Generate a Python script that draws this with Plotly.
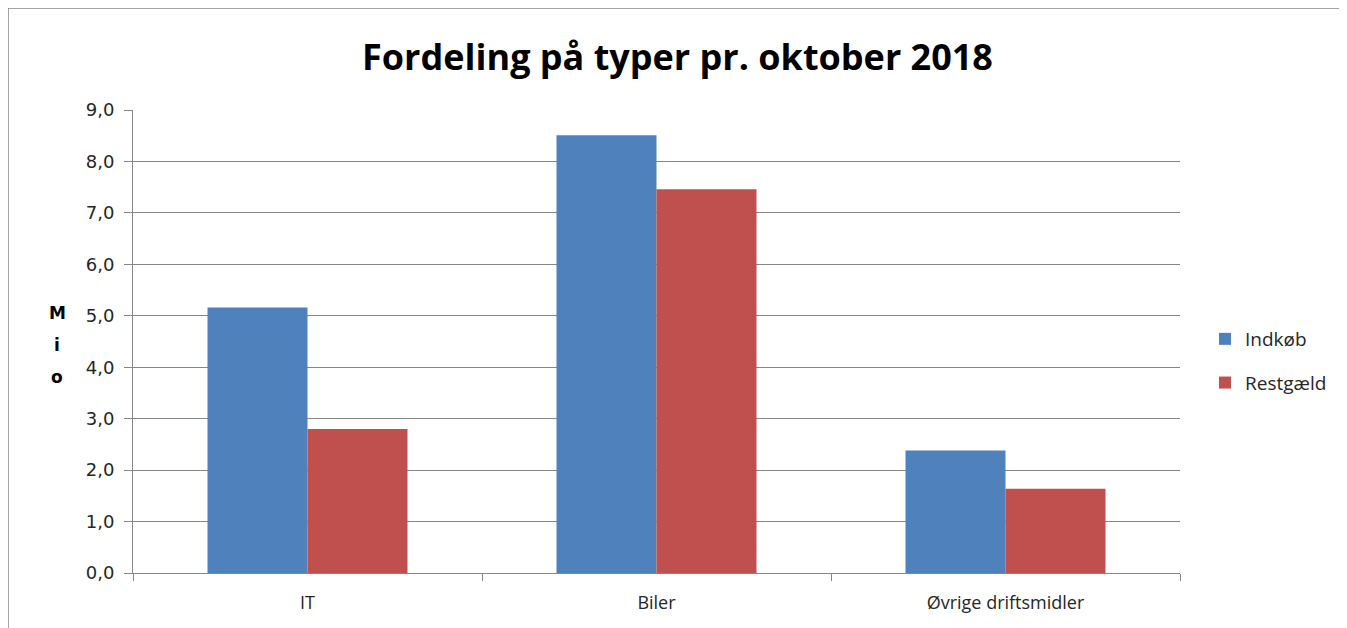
import plotly.graph_objects as go

categories = ["IT", "Biler", "Øvrige driftsmidler"]
indkob = [5.16, 8.51, 2.38]
restgaeld = [2.80, 7.46, 1.64]
tick_vals = [0, 1, 2, 3, 4, 5, 6, 7, 8, 9]
tick_text = ["0,0", "1,0", "2,0", "3,0", "4,0", "5,0", "6,0", "7,0", "8,0", "9,0"]

# page body has an 8px margin, so figure coordinates = screen - 8
W, H = 1339, 620
L, R, T, B = 125, 167, 102, 55
pw, ph = W - L - R, H - T - B
x0s, y0s = L + 8, T + 8          # plot origin on screen (top-left)
ybot = H - B + 8                 # screen y of value 0


def px(sx):
    return (sx - x0s) / pw


def py(sy):
    return (ybot - sy) / ph


fig = go.Figure()
fig.add_trace(go.Bar(name="Indkøb", x=categories, y=indkob, legendgroup="a",
                     marker=dict(color="#4F81BD", line=dict(width=0))))
fig.add_trace(go.Bar(name="Restgæld", x=categories, y=restgaeld, legendgroup="b",
                     marker=dict(color="#C0504D", line=dict(width=0))))

font_fam = "Open Sans, Liberation Sans, sans-serif"
tick_fam = "DejaVu Sans, Verdana, sans-serif"
fig.update_layout(
    width=W, height=H,
    margin=dict(l=L, r=R, t=T, b=B),
    paper_bgcolor="white", plot_bgcolor="white",
    barmode="group", bargap=0.427, bargroupgap=0,
    title=dict(text="<b>Fordeling på typer pr. oktober 2018</b>", x=0.5, xanchor="center",
               y=1 - 49 / H, yanchor="middle",
               font=dict(family=font_fam, size=36, color="black")),
    legend=dict(x=px(1205), y=py(320), xanchor="left", yanchor="top",
                font=dict(family=font_fam, size=19, color="#262626"),
                traceorder="grouped", tracegroupgap=16, itemwidth=30,
                bgcolor="rgba(0,0,0,0)"),
    showlegend=True,
    font=dict(family=font_fam, size=15, color="#262626"),
)
fig.update_xaxes(showline=True, linecolor="#868686", linewidth=1, ticks="outside",
                 tickson="boundaries", ticklen=7, tickcolor="#868686",
                 ticklabelstandoff=13,
                 tickfont=dict(family=font_fam, size=18, color="#262626"),
                 showgrid=False)
fig.update_yaxes(range=[0, 9], tickvals=tick_vals, ticktext=tick_text,
                 showline=True, linecolor="#868686", linewidth=1, ticks="outside",
                 ticklen=8, tickcolor="#868686", showgrid=True, gridcolor="#868686",
                 gridwidth=1, zeroline=False, ticklabelstandoff=6,
                 tickfont=dict(family=tick_fam, size=18, color="#262626"))
for letter, sy in (("M", 313), ("i", 345), ("o", 377)):
    fig.add_annotation(text="<b>" + letter + "</b>", xref="paper", yref="paper",
                       x=px(57), y=py(sy), xanchor="center", yanchor="middle",
                       showarrow=False, font=dict(family=tick_fam, size=17, color="black"))
fig.add_shape(type="rect", xref="paper", yref="paper",
              x0=px(8), x1=px(1345), y0=py(700), y1=py(8),
              line=dict(color="#868686", width=1.5), fillcolor="rgba(0,0,0,0)", layer="below")
fig.write_html("out.html")
